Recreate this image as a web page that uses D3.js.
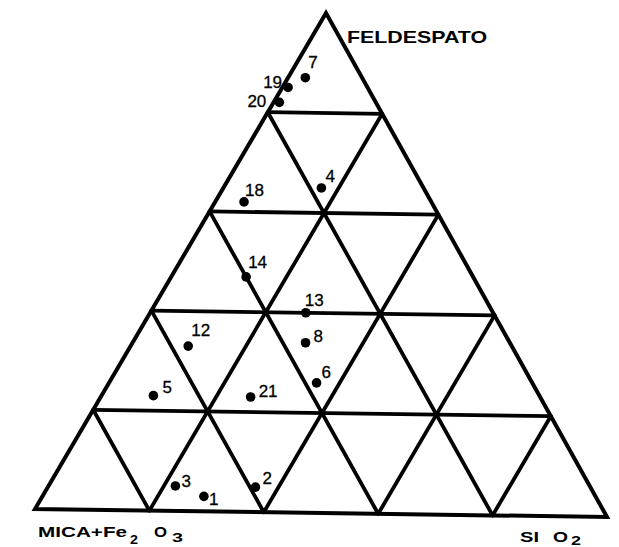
<!DOCTYPE html>
<html>
<head>
<meta charset="utf-8">
<script src="https://cdn.jsdelivr.net/npm/d3@7"></script>
<style>
  body { margin: 0; background: #fff; }
  svg { display: block; }
</style>
</head>
<body>
<svg id="chart" width="619" height="547"></svg>
<script>
// Sample compositions (%): feldspar, mica + Fe2O3, silica
const sampleIds  = ["1", "2", "3", "4", "5", "6", "7", "8", "12", "13", "14", "18", "19", "20", "21"];
const feldespato = [ 3,   5,   5,  65,  23,  26,  87,  34,  33,   40,   47,   62,   85,   82,   23];
const micaFe2O3  = [69,  59,  73,  18,  68,  38,  10,  36,  57,   33,   40,   33,   14,   17,   51];
const sio2       = [28,  36,  22,  17,   9,  36,   3,  30,  10,   27,   13,    5,    1,    1,   26];
const gridTicks  = [20, 40, 60, 80];

// Label placement beside each dot (layout only)
const labelPlacement = {
  "1": [5, 9, "start"], "2": [7, -3, "start"], "3": [6, 1, "start"],
  "4": [4, -6, "start"], "5": [9, -3, "start"], "6": [5, -5, "start"],
  "7": [3, -10, "start"], "8": [8, -1, "start"], "12": [3, -10, "start"],
  "13": [-1, -7, "start"], "14": [2, -9, "start"], "18": [1, -6, "start"],
  "19": [-6, 1, "end"], "20": [-13, 5, "end"], "21": [8, 0, "start"]
};

const svg = d3.select("#chart");

// Triangle corners: feldspar at the apex, mica lower left, silica lower right
const apex  = [326, 13];
const left  = [35, 509];
const right = [607, 517];

const frac = d3.scaleLinear().domain([0, 100]).range([0, 1]);

function project(f, m, s) {
  const a = frac(f), b = frac(m), c = frac(s);
  const t = a + b + c;
  return [
    (a * apex[0] + b * left[0] + c * right[0]) / t,
    (a * apex[1] + b * left[1] + c * right[1]) / t
  ];
}

const g = svg.append("g");

// Grid lines every 20 %
const gridSegs = [];
gridTicks.forEach(v => {
  gridSegs.push([project(v, 100 - v, 0), project(v, 0, 100 - v)]); // constant feldspar
  gridSegs.push([project(100 - v, v, 0), project(0, v, 100 - v)]); // constant mica
  gridSegs.push([project(100 - v, 0, v), project(0, 100 - v, v)]); // constant silica
});

g.selectAll("line.grid")
  .data(gridSegs)
  .join("line")
  .attr("class", "grid")
  .attr("x1", d => d[0][0]).attr("y1", d => d[0][1])
  .attr("x2", d => d[1][0]).attr("y2", d => d[1][1])
  .attr("stroke", "#000")
  .attr("stroke-width", 3.8)
  .attr("stroke-linecap", "round");

// Outer triangle
g.append("path")
  .attr("d", d3.line()([project(100, 0, 0), project(0, 100, 0), project(0, 0, 100)]) + "Z")
  .attr("fill", "none")
  .attr("stroke", "#000")
  .attr("stroke-width", 4)
  .attr("stroke-linejoin", "miter");

// Samples
const samples = sampleIds.map((id, i) => ({
  id, f: feldespato[i], m: micaFe2O3[i], s: sio2[i],
  p: project(feldespato[i], micaFe2O3[i], sio2[i])
}));

g.selectAll("circle.sample")
  .data(samples)
  .join("circle")
  .attr("class", "sample")
  .attr("cx", d => d.p[0])
  .attr("cy", d => d.p[1])
  .attr("r", 4.8)
  .attr("fill", "#000");

g.selectAll("text.sample-label")
  .data(samples)
  .join("text")
  .attr("class", "sample-label")
  .attr("x", d => d.p[0] + labelPlacement[d.id][0])
  .attr("y", d => d.p[1] + labelPlacement[d.id][1])
  .attr("text-anchor", d => labelPlacement[d.id][2])
  .attr("font-family", "'Liberation Sans', Arial, sans-serif")
  .attr("font-size", 17)
  .attr("fill", "#000")
  .attr("stroke", "#000")
  .attr("stroke-width", 0.3)
  .text(d => d.id);

// Vertex names
const axisFont = "'Liberation Sans', Arial, sans-serif";

function piece(x, y, size, str, width) {
  const t = svg.append("text")
    .attr("x", x).attr("y", y)
    .attr("font-family", axisFont)
    .attr("font-weight", "bold")
    .attr("font-size", size)
    .attr("fill", "#000")
    .text(str);
  if (width) t.attr("textLength", width).attr("lengthAdjust", "spacingAndGlyphs");
  return t;
}

piece(347, 43, 16.5, "FELDESPATO", 140);

piece(38, 537, 15.5, "MICA+Fe", 89);
piece(130, 544, 13, "2", 8);
piece(154, 537, 15.5, "O", 13);
piece(172, 542, 13, "3", 11);

piece(520, 542, 15.5, "SI", 19);
piece(553, 542, 15.5, "O", 15);
piece(571, 545, 13, "2", 10);
</script>
</body>
</html>
